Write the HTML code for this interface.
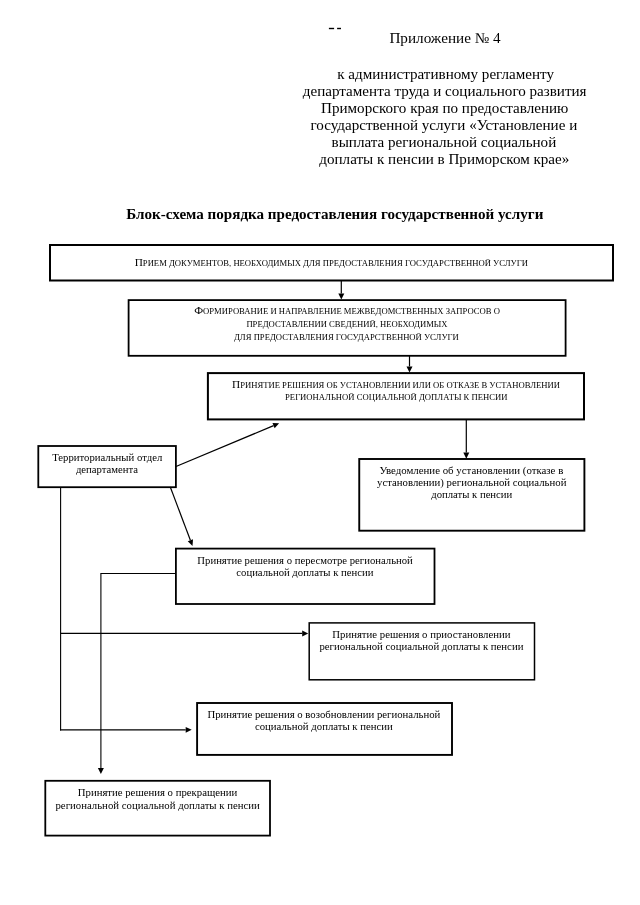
<!DOCTYPE html>
<html><head><meta charset="utf-8"><style>
html,body{margin:0;padding:0;background:#fff;overflow:hidden;}
body{width:640px;height:905px;position:relative;overflow:hidden;font-family:"Liberation Serif", serif;color:#000;}
.t{position:absolute;text-align:center;white-space:nowrap;will-change:transform;}
svg{position:absolute;left:0;top:0;}
.t span span{line-height:0;}
</style></head><body>
<svg width="640" height="905" viewBox="0 0 640 905">
<rect x="50" y="245" width="563.00" height="35.50" fill="none" stroke="#000" stroke-width="2.0"/>
<rect x="128.6" y="300.1" width="437.00" height="55.70" fill="none" stroke="#000" stroke-width="1.8"/>
<rect x="207.9" y="373.1" width="376.10" height="46.30" fill="none" stroke="#000" stroke-width="2.0"/>
<rect x="38.3" y="446" width="137.60" height="41.20" fill="none" stroke="#000" stroke-width="1.8"/>
<rect x="359.25" y="459.0" width="225.15" height="71.70" fill="none" stroke="#000" stroke-width="1.9"/>
<rect x="175.9" y="548.6" width="258.60" height="55.40" fill="none" stroke="#000" stroke-width="1.8"/>
<rect x="309.2" y="622.9" width="225.30" height="56.90" fill="none" stroke="#000" stroke-width="1.5"/>
<rect x="197.1" y="703" width="254.90" height="51.90" fill="none" stroke="#000" stroke-width="1.9"/>
<rect x="45.3" y="780.8" width="224.70" height="54.80" fill="none" stroke="#000" stroke-width="1.8"/>
<polygon points="341.30,299.60 338.30,293.40 344.30,293.40" fill="#000"/>
<line x1="341.30" y1="281.00" x2="341.30" y2="293.40" stroke="#000" stroke-width="1.2"/>
<polygon points="409.50,372.60 406.50,366.40 412.50,366.40" fill="#000"/>
<line x1="409.50" y1="355.80" x2="409.50" y2="366.40" stroke="#000" stroke-width="1.2"/>
<polygon points="466.30,458.70 463.30,452.50 469.30,452.50" fill="#000"/>
<line x1="466.30" y1="419.20" x2="466.30" y2="452.50" stroke="#000" stroke-width="1.2"/>
<polygon points="279.10,423.30 274.65,428.20 272.48,423.04" fill="#000"/>
<line x1="176.00" y1="466.50" x2="273.57" y2="425.62" stroke="#000" stroke-width="1.2"/>
<polygon points="192.50,545.90 187.76,541.27 193.00,539.30" fill="#000"/>
<line x1="170.30" y1="487.00" x2="190.38" y2="540.29" stroke="#000" stroke-width="1.2"/>
<line x1="60.60" y1="487.50" x2="60.60" y2="730.40" stroke="#000" stroke-width="1.1"/>
<polygon points="308.20,633.40 302.20,636.40 302.20,630.40" fill="#000"/>
<line x1="60.60" y1="633.40" x2="302.20" y2="633.40" stroke="#000" stroke-width="1.2"/>
<polygon points="191.70,729.80 185.70,732.70 185.70,726.90" fill="#000"/>
<line x1="60.00" y1="729.80" x2="185.70" y2="729.80" stroke="#000" stroke-width="1.3"/>
<line x1="175.90" y1="573.50" x2="100.90" y2="573.50" stroke="#000" stroke-width="1.0"/>
<polygon points="100.90,773.90 97.90,767.90 103.90,767.90" fill="#000"/>
<line x1="100.90" y1="573.00" x2="100.90" y2="767.90" stroke="#000" stroke-width="1.1"/>
<rect x="328.9" y="27.8" width="5.2" height="1.4" fill="#000"/>
<rect x="337.1" y="27.8" width="3.9" height="1.4" fill="#000"/>
</svg>
<div class="t" style="left:250.00px;top:18.17px;width:390.0px;height:40px;line-height:40px;font-size:15.2px;font-weight:normal"><span>Приложение № 4</span></div>
<div class="t" style="left:250.70px;top:53.70px;width:389.3px;height:40px;line-height:40px;font-size:15.1px;font-weight:normal"><span>к административному регламенту</span></div>
<div class="t" style="left:248.60px;top:70.80px;width:391.4px;height:40px;line-height:40px;font-size:15.1px;font-weight:normal"><span>департамента труда и социального развития</span></div>
<div class="t" style="left:248.60px;top:87.90px;width:391.4px;height:40px;line-height:40px;font-size:15.1px;font-weight:normal"><span>Приморского края по предоставлению</span></div>
<div class="t" style="left:248.30px;top:105.00px;width:391.7px;height:40px;line-height:40px;font-size:15.1px;font-weight:normal"><span>государственной услуги «Установление и</span></div>
<div class="t" style="left:248.20px;top:122.10px;width:391.8px;height:40px;line-height:40px;font-size:15.1px;font-weight:normal"><span>выплата региональной социальной</span></div>
<div class="t" style="left:249.36px;top:139.20px;width:390.64px;height:40px;line-height:40px;font-size:15.1px;font-weight:normal"><span>доплаты к пенсии в Приморском крае»</span></div>
<div class="t" style="left:30.40px;top:194.30px;width:609.6px;height:40px;line-height:40px;font-size:15.1px;font-weight:bold"><span>Блок-схема порядка предоставления государственной услуги</span></div>
<div class="t" style="left:23.40px;top:242.68px;width:616.6px;height:40px;line-height:40px;font-size:8.65px;font-weight:normal"><span><span style="font-size:11.3px">П</span><span style="font-size:8.65px">РИЕМ ДОКУМЕНТОВ, НЕОБХОДИМЫХ ДЛЯ ПРЕДОСТАВЛЕНИЯ ГОСУДАРСТВЕННОЙ УСЛУГИ</span></span></div>
<div class="t" style="left:54.00px;top:291.38px;width:586px;height:40px;line-height:40px;font-size:8.65px;font-weight:normal"><span><span style="font-size:11.3px">Ф</span><span style="font-size:8.65px">ОРМИРОВАНИЕ И НАПРАВЛЕНИЕ МЕЖВЕДОМСТВЕННЫХ ЗАПРОСОВ О</span></span></div>
<div class="t" style="left:54.00px;top:303.88px;width:586px;height:40px;line-height:40px;font-size:8.65px;font-weight:normal"><span><span style="font-size:8.65px">ПРЕДОСТАВЛЕНИИ СВЕДЕНИЙ, НЕОБХОДИМЫХ</span></span></div>
<div class="t" style="left:53.20px;top:317.08px;width:586.8px;height:40px;line-height:40px;font-size:8.65px;font-weight:normal"><span><span style="font-size:8.65px">ДЛЯ ПРЕДОСТАВЛЕНИЯ ГОСУДАРСТВЕННОЙ УСЛУГИ</span></span></div>
<div class="t" style="left:152.00px;top:364.58px;width:488px;height:40px;line-height:40px;font-size:8.65px;font-weight:normal"><span><span style="font-size:11.3px">П</span><span style="font-size:8.65px">РИНЯТИЕ РЕШЕНИЯ ОБ УСТАНОВЛЕНИИ ИЛИ ОБ ОТКАЗЕ В УСТАНОВЛЕНИИ</span></span></div>
<div class="t" style="left:151.50px;top:376.58px;width:488.5px;height:40px;line-height:40px;font-size:8.65px;font-weight:normal"><span><span style="font-size:8.65px">РЕГИОНАЛЬНОЙ СОЦИАЛЬНОЙ ДОПЛАТЫ К ПЕНСИИ</span></span></div>
<div class="t" style="left:0.00px;top:436.88px;width:214.4px;height:40px;line-height:40px;font-size:10.72px;font-weight:normal"><span>Территориальный отдел</span></div>
<div class="t" style="left:0.00px;top:448.89px;width:214px;height:40px;line-height:40px;font-size:10.7px;font-weight:normal"><span>департамента</span></div>
<div class="t" style="left:303.20px;top:449.94px;width:336.8px;height:40px;line-height:40px;font-size:10.85px;font-weight:normal"><span>Уведомление об установлении (отказе в</span></div>
<div class="t" style="left:302.50px;top:462.17px;width:337.5px;height:40px;line-height:40px;font-size:10.75px;font-weight:normal"><span>установлении) региональной социальной</span></div>
<div class="t" style="left:302.50px;top:474.39px;width:337.5px;height:40px;line-height:40px;font-size:10.7px;font-weight:normal"><span>доплаты к пенсии</span></div>
<div class="t" style="left:0.00px;top:540.39px;width:610.2px;height:40px;line-height:40px;font-size:10.7px;font-weight:normal"><span>Принятие решения о пересмотре региональной</span></div>
<div class="t" style="left:0.00px;top:552.09px;width:609.8px;height:40px;line-height:40px;font-size:10.7px;font-weight:normal"><span>социальной доплаты к пенсии</span></div>
<div class="t" style="left:203.20px;top:614.37px;width:436.8px;height:40px;line-height:40px;font-size:10.75px;font-weight:normal"><span>Принятие решения о приостановлении</span></div>
<div class="t" style="left:203.20px;top:626.37px;width:436.8px;height:40px;line-height:40px;font-size:10.75px;font-weight:normal"><span>региональной социальной доплаты к пенсии</span></div>
<div class="t" style="left:8.20px;top:694.37px;width:631.8px;height:40px;line-height:40px;font-size:10.75px;font-weight:normal"><span>Принятие решения о возобновлении региональной</span></div>
<div class="t" style="left:8.20px;top:706.27px;width:631.8px;height:40px;line-height:40px;font-size:10.75px;font-weight:normal"><span>социальной доплаты к пенсии</span></div>
<div class="t" style="left:0.00px;top:772.37px;width:315.0px;height:40px;line-height:40px;font-size:10.76px;font-weight:normal"><span>Принятие решения о прекращении</span></div>
<div class="t" style="left:0.00px;top:784.66px;width:315.3px;height:40px;line-height:40px;font-size:10.78px;font-weight:normal"><span>региональной социальной доплаты к пенсии</span></div>
</body></html>
